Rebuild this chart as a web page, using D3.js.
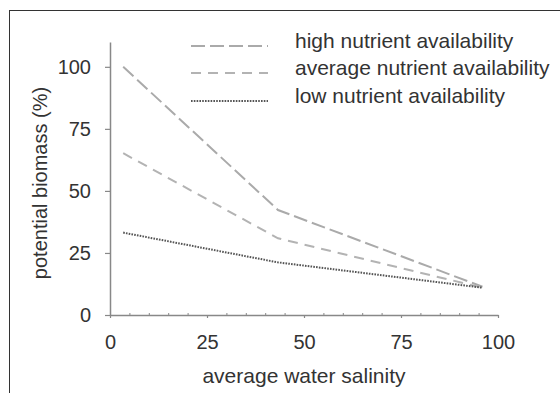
<!DOCTYPE html>
<html>
<head>
<meta charset="utf-8">
<script src="https://cdn.jsdelivr.net/npm/d3@7"></script>
<style>
  html, body { margin: 0; padding: 0; background: #fff; }
  svg { display: block; font-family: "Liberation Sans", Arial, sans-serif; }
</style>
</head>
<body>
<svg id="chart" width="560" height="393"></svg>
<script>
// data
const salinity = [3.4, 43.3, 96];
const highNutrient = [100, 42.3, 11.4];
const avgNutrient = [65.2, 30.9, 11];
const lowNutrient = [33.2, 21.2, 11];
const seriesNames = ['high nutrient availability', 'average nutrient availability', 'low nutrient availability'];
const xTicks = [0, 25, 50, 75, 100];
const yTicks = [0, 25, 50, 75, 100];

const svg = d3.select('#chart');

// outer frame (runs off the right and bottom)
svg.append('rect')
  .attr('x', 9.5).attr('y', 10.5)
  .attr('width', 600).attr('height', 450)
  .attr('fill', 'none')
  .attr('stroke', '#333')
  .attr('stroke-width', 1);

const x = d3.scaleLinear().domain([0, 100]).range([110, 498]);
const y = d3.scaleLinear().domain([0, 110]).range([315, 42]);

const axisColor = '#888';
const textColor = '#333';

// y axis
const yAxis = svg.append('g')
  .attr('transform', 'translate(' + x(0) + ',0)')
  .call(d3.axisLeft(y).tickValues(yTicks).tickSize(5).tickSizeOuter(0).tickPadding(14));

// minor x ticks (small, upward)
svg.append('g')
  .attr('transform', 'translate(0,' + y(0) + ')')
  .call(d3.axisBottom(x).tickValues(d3.range(5, 100, 5).filter(function (v) { return v % 25 !== 0; }))
    .tickSize(-2).tickSizeOuter(0).tickFormat(''))
  .call(function (g) { g.select('.domain').remove(); });

// x axis
const xAxis = svg.append('g')
  .attr('transform', 'translate(0,' + y(0) + ')')
  .call(d3.axisBottom(x).tickValues(xTicks).tickSize(3).tickSizeOuter(0).tickPadding(17));

[xAxis, yAxis].forEach(function (g) {
  g.select('.domain').attr('stroke', axisColor).attr('stroke-width', 1.5);
  g.selectAll('.tick line').attr('stroke', axisColor).attr('stroke-width', 1.2);
  g.selectAll('.tick text')
    .attr('fill', textColor)
    .attr('font-size', 20)
    .attr('font-family', '"Liberation Sans", Arial, sans-serif');
});
svg.selectAll('.tick line').attr('stroke', axisColor);

// axis titles
svg.append('text')
  .attr('x', 304).attr('y', 383)
  .attr('text-anchor', 'middle')
  .attr('font-size', 21)
  .attr('fill', textColor)
  .text('average water salinity');

svg.append('text')
  .attr('transform', 'translate(47,183) rotate(-90)')
  .attr('text-anchor', 'middle')
  .attr('font-size', 20)
  .attr('fill', textColor)
  .text('potential biomass (%)');

// series
const styles = [
  { color: '#aaa', dash: '14,5', width: 2 },
  { color: '#b3b3b3', dash: '10,7', width: 2 },
  { color: '#555', dash: '1.6,1.2', width: 2 }
];
const seriesValues = [highNutrient, avgNutrient, lowNutrient];

const line = d3.line()
  .x(function (d) { return x(d[0]); })
  .y(function (d) { return y(d[1]); });

seriesValues.forEach(function (vals, i) {
  const pts = salinity.map(function (s, j) { return [s, vals[j]]; });
  svg.append('path')
    .datum(pts)
    .attr('d', line)
    .attr('fill', 'none')
    .attr('stroke', styles[i].color)
    .attr('stroke-width', styles[i].width)
    .attr('stroke-dasharray', styles[i].dash);
});

// legend
const legendRowsY = [46, 73, 101];
const legend = svg.append('g');
seriesNames.forEach(function (name, i) {
  legend.append('line')
    .attr('x1', 191).attr('x2', 268)
    .attr('y1', legendRowsY[i]).attr('y2', legendRowsY[i])
    .attr('stroke', styles[i].color)
    .attr('stroke-width', styles[i].width)
    .attr('stroke-dasharray', styles[i].dash);
  legend.append('text')
    .attr('x', 295)
    .attr('y', legendRowsY[i] + 2)
    .attr('font-size', 21)
    .attr('fill', textColor)
    .text(name);
});
</script>
</body>
</html>
